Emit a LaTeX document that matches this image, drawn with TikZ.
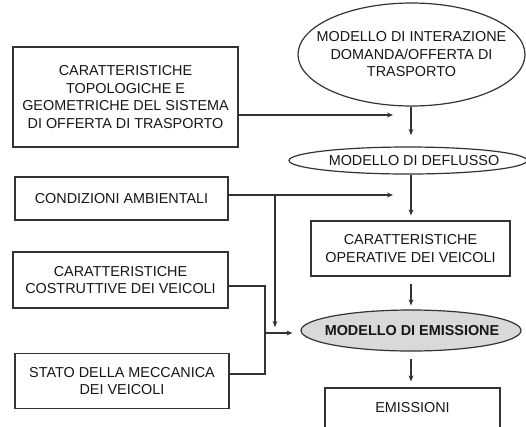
\documentclass[tikz,border=0pt]{standalone}
\usepackage{fontspec}
\setmainfont{Liberation Sans}
\usetikzlibrary{shapes.geometric,arrows.meta}
\definecolor{txt}{HTML}{161616}
\definecolor{ln}{HTML}{333333}
\definecolor{emfill}{HTML}{D9D9D9}
\begin{document}
\begin{tikzpicture}[x=1bp,y=-1bp,
  lbl/.style={text=txt, align=center, font=\fontsize{14.4bp}{17.5bp}\selectfont, inner sep=0pt},
  box/.style={lbl, draw=ln, line width=1.2bp, rectangle},
  oval/.style={draw=ln, line width=1.2bp, ellipse, inner sep=0pt},
  arr/.style={draw=ln, line width=1.1bp, -{Stealth[length=6bp,width=5bp]}},
  ln/.style={draw=ln, line width=1.1bp}]
\clip (0,0) rectangle (526,426);
% left boxes
\node[box, minimum width=225bp, minimum height=100bp] (b1) at (125.5,97)
  {CARATTERISTICHE\\TOPOLOGICHE E\\GEOMETRICHE DEL SISTEMA\\DI OFFERTA DI TRASPORTO};
\node[box, minimum width=213bp, minimum height=43bp] (b2) at (121.5,198.5)
  {CONDIZIONI AMBIENTALI};
\node[box, minimum width=215bp, minimum height=56bp] (b3) at (120.5,280)
  {CARATTERISTICHE\\COSTRUTTIVE DEI VEICOLI};
\node[box, minimum width=214bp, minimum height=55bp] (b4) at (122,381)
  {STATO DELLA MECCANICA\\DEI VEICOLI};
% right column
\node[oval, minimum width=227bp, minimum height=103bp,
  label={[lbl]center:MODELLO DI INTERAZIONE\\DOMANDA/OFFERTA DI\\TRASPORTO}] (e1) at (411.5,54.5) {};
\node[oval, minimum width=238bp, minimum height=27bp,
  label={[lbl, xshift=6bp]center:MODELLO DI DEFLUSSO}] (e2) at (408,160.5) {};
\node[box, minimum width=199bp, minimum height=55bp] (op) at (410.5,248.5)
  {CARATTERISTICHE\\OPERATIVE DEI VEICOLI};
\node[oval, fill=emfill, minimum width=220bp, minimum height=41bp,
  label={[lbl, font=\fontsize{14.4bp}{17.5bp}\selectfont\bfseries, xshift=1bp]center:MODELLO DI EMISSIONE}] (em) at (411,330.5) {};
\node[box, minimum width=175bp, minimum height=64bp,
  label={[lbl, yshift=12bp]center:EMISSIONI}] (ems) at (412.5,420) {};
% connectors
\coordinate (t1) at (393,115);
\draw[arr] (b1.east |- t1) -- (t1);
\coordinate (t2) at (411,135);
\draw[arr] (e1.south -| t2) -- (t2);
\coordinate (t3) at (393,195);
\draw[arr] (b2.east |- t3) -- (t3);
\coordinate (br) at (275,195);
\coordinate (t5) at (275,327);
\draw[arr] (br) -- (t5);
\draw[arr] (e2.south -| t2) -- ([yshift=5bp]op.north -| t2);
\draw[arr] ([yshift=-7bp]op.south -| t2) -- ([yshift=4bp]em.north -| t2);
\coordinate (k) at (265,333);
\draw[ln] (b3.east |- 0,286) -| (k) |- (b4.east |- 0,374);
\draw[arr] (k) -- ([xshift=-8bp]em.west |- k);
\draw[arr] ([yshift=-7bp]em.south -| t2) -- ([yshift=6bp]ems.north -| t2);
\end{tikzpicture}
\end{document}
